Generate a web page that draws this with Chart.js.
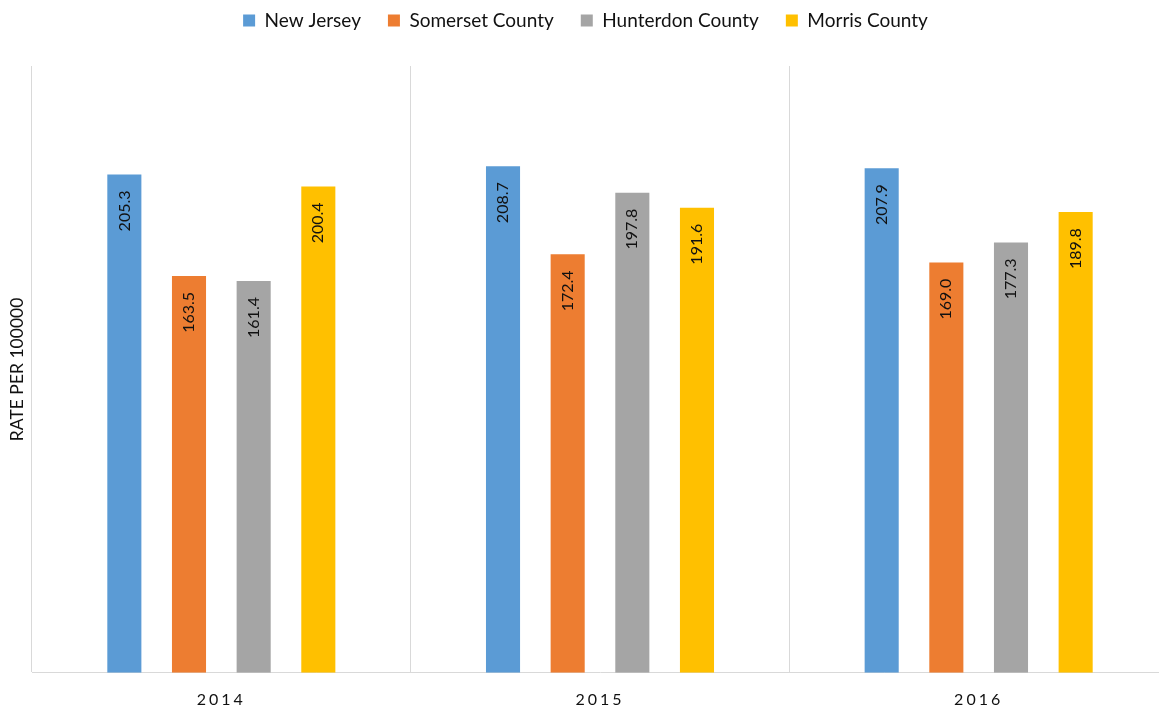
<!DOCTYPE html>
<html>
<head>
<meta charset="utf-8">
<script src="https://cdn.jsdelivr.net/npm/chart.js@4/dist/chart.umd.min.js"></script>
<style>
  html, body { margin: 0; padding: 0; background: #fff; overflow: hidden; }
  #wrap { width: 1172px; height: 709px; }
</style>
</head>
<body>
<div id="wrap"><canvas id="rateChart"></canvas></div>
<script>
    // Rate per 100000, by year
    const years = ['2014', '2015', '2016'];
    const newJersey = [205.3, 208.7, 207.9];
    const somerset = [163.5, 172.4, 169.0];
    const hunterdon = [161.4, 197.8, 177.3];
    const morris = [200.4, 191.6, 189.8];

    const fontFam = 'Lato, "Open Sans", sans-serif';

    // value labels, rotated, just under the top of each bar
    const barLabels = {
        id: 'barLabels',
        afterDatasetsDraw(chart) {
            const ctx = chart.ctx;
            ctx.save();
            ctx.font = '16px ' + fontFam;
            ctx.fillStyle = '#111';
            ctx.textAlign = 'right';
            ctx.textBaseline = 'middle';
            chart.data.datasets.forEach((ds, i) => {
                chart.getDatasetMeta(i).data.forEach((bar, j) => {
                    ctx.save();
                    ctx.translate(bar.x, bar.y + 16);
                    ctx.rotate(-Math.PI / 2);
                    ctx.fillText(ds.data[j].toFixed(1), 0, 0);
                    ctx.restore();
                });
            });
            ctx.restore();
        }
    };

    // spaced out year labels + extra room under the legend
    const tweaks = {
        id: 'tweaks',
        beforeLayout(chart) {
            const lg = chart.legend;
            if (lg && !lg._wrapped) {
                const fit = lg.fit.bind(lg);
                lg.fit = function () { fit(); this.height += 26; };
                lg._wrapped = true;
            }
        },
        afterLayout(chart) {
            const s = chart.scales.x;
            if (s._spaced) return;
            const orig = s.drawLabels.bind(s);
            s.drawLabels = function (area) {
                chart.ctx.save();
                chart.ctx.letterSpacing = '3px';
                orig(area);
                chart.ctx.restore();
            };
            s._spaced = true;
        }
    };

    const ctxRate = document.getElementById('rateChart').getContext('2d');
    const chartRate = new Chart(ctxRate, {
        type: 'bar',
        data: {
            labels: years,
            datasets: [
                { label: 'New Jersey', data: newJersey, backgroundColor: '#5B9BD5' },
                { label: 'Somerset County', data: somerset, backgroundColor: '#ED7D31' },
                { label: 'Hunterdon County', data: hunterdon, backgroundColor: '#A5A5A5' },
                { label: 'Morris County', data: morris, backgroundColor: '#FFC000' }
            ]
        },
        options: {
            responsive: true,
            maintainAspectRatio: false,
            animation: false,
            datasets: {
                bar: { categoryPercentage: 0.683, barPercentage: 0.527 }
            },
            layout: { padding: { top: -16, left: 3, right: 4, bottom: -17 } },
            plugins: {
                legend: {
                    position: 'top',
                    labels: {
                        boxWidth: 12,
                        boxHeight: 12,
                        padding: 27,
                        color: '#111',
                        font: { family: fontFam, size: 19 }
                    }
                },
                tooltip: { enabled: false }
            },
            scales: {
                x: {
                    grid: { color: '#d9d9d9', drawTicks: false, offset: true },
                    border: { color: '#d9d9d9' },
                    ticks: { color: '#111', padding: 17, font: { family: fontFam, size: 16 } }
                },
                y: {
                    min: 0,
                    max: 250,
                    ticks: { display: false },
                    grid: { display: false, drawTicks: false },
                    border: { display: false },
                    title: {
                        display: true,
                        text: 'RATE PER 100000',
                        color: '#111',
                        padding: { top: 4, bottom: 4 },
                        font: { family: fontFam, size: 17.5 }
                    }
                }
            }
        },
        plugins: [barLabels, tweaks]
    });
</script>
</body>
</html>
